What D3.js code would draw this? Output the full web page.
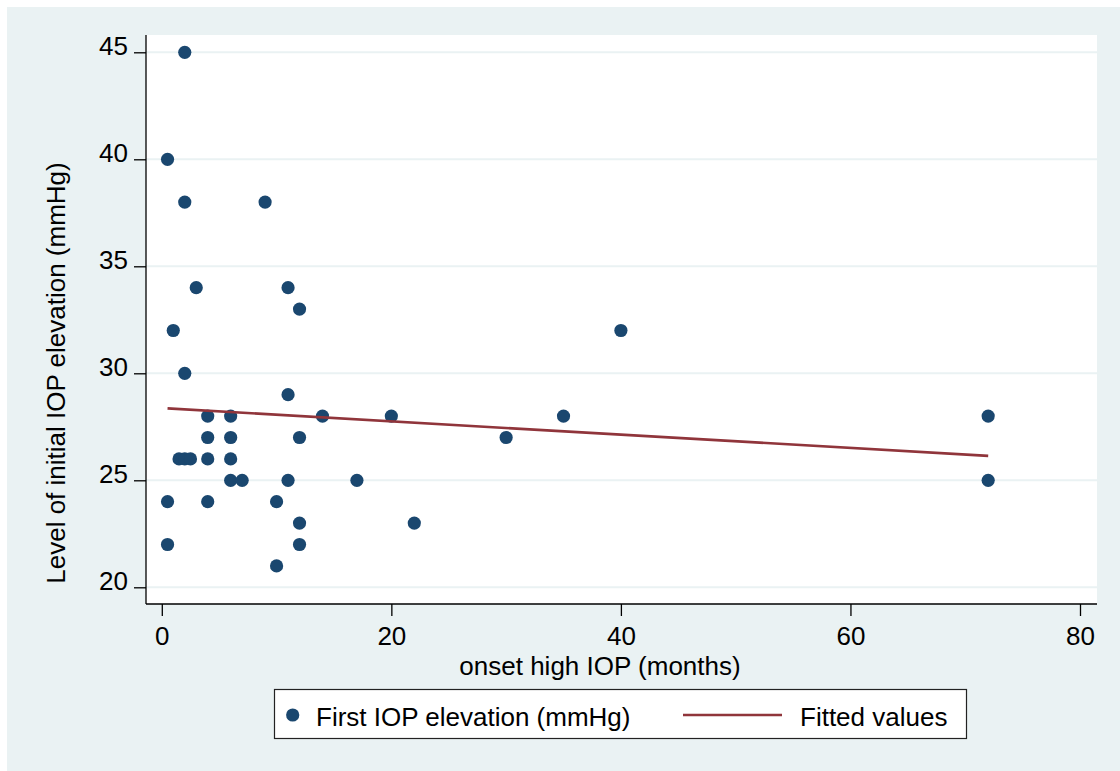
<!DOCTYPE html>
<html>
<head>
<meta charset="utf-8">
<script src="https://cdn.jsdelivr.net/npm/d3@7/dist/d3.min.js"></script>
<style>
  html, body { margin: 0; padding: 0; background: #ffffff; }
  svg { display: block; font-family: "Liberation Sans", Arial, sans-serif; }
</style>
</head>
<body>
<svg id="chart" width="1120" height="771"></svg>
<script>
// Onset of high IOP (months) and level of the first IOP elevation (mmHg)
const onsetMonths = [2, 0.5, 2, 9, 3, 11, 12, 1, 40, 2,
                     11, 4, 6, 14, 20, 35, 72, 4, 6, 12,
                     30, 1.5, 2, 2.5, 4, 6, 6, 7, 11, 17,
                     72, 0.5, 4, 10, 12, 22, 0.5, 12, 10];
const iopLevel    = [45, 40, 38, 38, 34, 34, 33, 32, 32, 30,
                     29, 28, 28, 28, 28, 28, 28, 27, 27, 27,
                     27, 26, 26, 26, 26, 26, 25, 25, 25, 25,
                     25, 24, 24, 24, 23, 23, 22, 22, 21];

// Linear fit, endpoints at the smallest and largest onset
const fitX = [0.5, 72];
const fitY = [28.36, 26.14];

const xTicks = [0, 20, 40, 60, 80];
const yTicks = [20, 25, 30, 35, 40, 45];

const seriesNames = ["First IOP elevation (mmHg)", "Fitted values"];
const xTitle = "onset high IOP (months)";
const yTitle = "Level of initial IOP elevation (mmHg)";

const C = {
  bg: "#eaf2f3",
  plot: "#ffffff",
  grid: "#eaf2f3",
  marker: "#1a476f",
  fit: "#90353b",
  axis: "#000000"
};

const svg = d3.select("#chart");

// Plot region bounds
const P = { left: 146, right: 1097, top: 35, bottom: 604 };

const x = d3.scaleLinear().domain([0, 80]).range([161.8, 1080]);
const y = d3.scaleLinear().domain([20, 45]).range([587.3, 52.3]);

// Outer graph background
svg.append("rect").attr("x", 7).attr("y", 7)
  .attr("width", 1113).attr("height", 764).attr("fill", C.bg);

// Plot region
svg.append("rect").attr("x", P.left).attr("y", P.top)
  .attr("width", P.right - P.left).attr("height", P.bottom - P.top)
  .attr("fill", C.plot);

// Horizontal gridlines
svg.append("g").selectAll("line").data(yTicks).join("line")
  .attr("x1", P.left).attr("x2", P.right)
  .attr("y1", d => y(d)).attr("y2", d => y(d))
  .attr("stroke", C.grid).attr("stroke-width", 2);

// Y axis
const yAxis = d3.axisLeft(y).tickValues(yTicks).tickSize(12).tickPadding(6)
  .tickFormat(d3.format("d"));
const gy = svg.append("g").attr("transform", `translate(${P.left},0)`).call(yAxis);
gy.select(".domain").remove();
gy.append("line").attr("x1", 0).attr("x2", 0).attr("y1", P.top).attr("y2", P.bottom)
  .attr("stroke", C.axis).attr("stroke-width", 1.3);
gy.selectAll(".tick line").attr("stroke", C.axis).attr("stroke-width", 1.3);
gy.selectAll(".tick text")
  .attr("fill", "#000").attr("font-size", 26)
  .attr("font-family", "Liberation Sans, Arial, sans-serif")
  .attr("dy", "0.08em").attr("x", -18);

// X axis
const xAxis = d3.axisBottom(x).tickValues(xTicks).tickSize(12).tickPadding(12)
  .tickFormat(d3.format("d"));
const gx = svg.append("g").attr("transform", `translate(0,${P.bottom})`).call(xAxis);
gx.select(".domain").remove();
gx.append("line").attr("x1", P.left).attr("x2", P.right).attr("y1", 0).attr("y2", 0)
  .attr("stroke", C.axis).attr("stroke-width", 1.3);
gx.selectAll(".tick line").attr("stroke", C.axis).attr("stroke-width", 1.3);
gx.selectAll(".tick text")
  .attr("fill", "#000").attr("font-size", 26)
  .attr("font-family", "Liberation Sans, Arial, sans-serif")
  .attr("dy", null).attr("y", 41);

// Axis titles
svg.append("text").attr("x", 600).attr("y", 675)
  .attr("text-anchor", "middle").attr("font-size", 26).attr("fill", "#000")
  .text(xTitle);
svg.append("text").attr("transform", "translate(65,373) rotate(-90)")
  .attr("text-anchor", "middle").attr("font-size", 26).attr("fill", "#000")
  .text(yTitle);

// Scatter markers
const pts = onsetMonths.map((m, i) => ({ x: m, y: iopLevel[i] }));
svg.append("g").selectAll("circle").data(pts).join("circle")
  .attr("cx", d => x(d.x)).attr("cy", d => y(d.y)).attr("r", 6.6)
  .attr("fill", C.marker);

// Fitted line
const fitPts = fitX.map((v, i) => [v, fitY[i]]);
svg.append("path").datum(fitPts)
  .attr("d", d3.line().x(d => x(d[0])).y(d => y(d[1])))
  .attr("fill", "none").attr("stroke", C.fit).attr("stroke-width", 2.6);

// Legend
const L = svg.append("g");
L.append("rect").attr("x", 274.5).attr("y", 689.5).attr("width", 692).attr("height", 49)
  .attr("fill", "#fff").attr("stroke", "#222").attr("stroke-width", 1.2);
L.append("circle").attr("cx", 292.7).attr("cy", 715).attr("r", 6.6).attr("fill", C.marker);
L.append("text").attr("x", 316).attr("y", 725.5).attr("font-size", 26).attr("fill", "#000")
  .text(seriesNames[0]);
L.append("line").attr("x1", 683).attr("x2", 782).attr("y1", 715).attr("y2", 715)
  .attr("stroke", C.fit).attr("stroke-width", 2.6);
L.append("text").attr("x", 800).attr("y", 725.5).attr("font-size", 26).attr("fill", "#000")
  .text(seriesNames[1]);
</script>
</body>
</html>
